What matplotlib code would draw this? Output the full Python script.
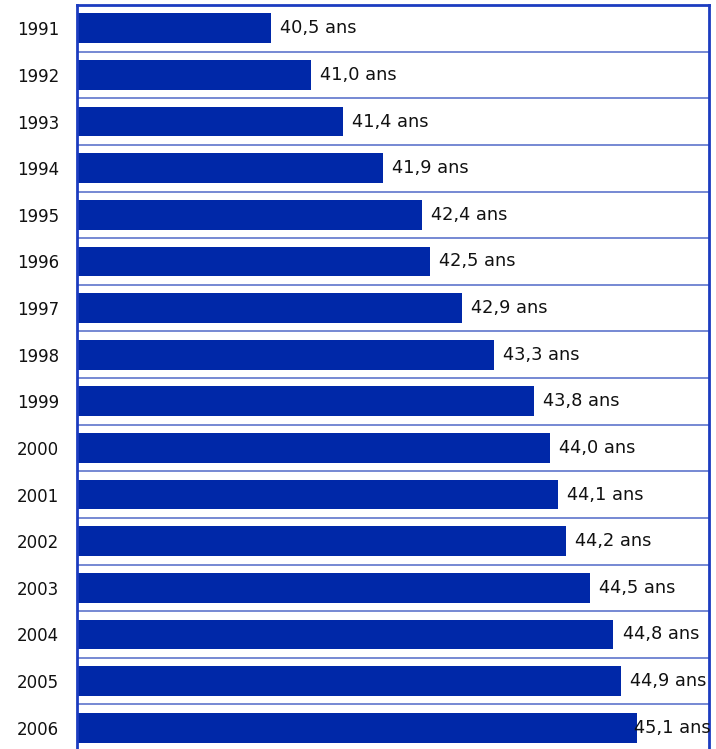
import matplotlib
matplotlib.use("Agg")
import matplotlib.pyplot as plt

years = ["1991", "1992", "1993", "1994", "1995", "1996", "1997", "1998",
         "1999", "2000", "2001", "2002", "2003", "2004", "2005", "2006"]
values = [40.5, 41.0, 41.4, 41.9, 42.4, 42.5, 42.9, 43.3,
          43.8, 44.0, 44.1, 44.2, 44.5, 44.8, 44.9, 45.1]
labels = ["40,5 ans", "41,0 ans", "41,4 ans", "41,9 ans", "42,4 ans", "42,5 ans",
          "42,9 ans", "43,3 ans", "43,8 ans", "44,0 ans", "44,1 ans", "44,2 ans",
          "44,5 ans", "44,8 ans", "44,9 ans", "45,1 ans"]

plt.rcParams['font.family'] = ['DejaVu Sans']

W, H = 716, 749
fig = plt.figure(figsize=(W / 100, H / 100), dpi=100)
ax = fig.add_axes([77 / W, -2 / H, (709 - 77) / W, (751 - 5) / H])

bar_color = '#0028a8'
frame_color = '#1c3cc0'
ypos = list(range(len(years)))
ax.barh(ypos, values, height=0.64, color=bar_color, left=0)
ax.set_xlim(38.06, 46.0)
ax.set_ylim(len(years) - 0.5, -0.5)

for i in range(len(years) - 1):
    ax.axhline(i + 0.5, color='#6a7fd0', lw=1.3, zorder=0.5)

ax.set_yticks(ypos)
ax.set_yticklabels(years, fontsize=12, color='#111111')
ax.tick_params(axis='y', length=0, pad=13)
ax.set_xticks([])
for s in ['left', 'top', 'right']:
    ax.spines[s].set_color(frame_color)
    ax.spines[s].set_linewidth(2)
ax.spines['bottom'].set_visible(False)

texts = []
for i, (v, lab) in enumerate(zip(values, labels)):
    t = ax.annotate(lab, xy=(v, i), xytext=(6.5, 0), textcoords='offset points',
                    va='center', ha='left', fontsize=12.8, color='#111111',
                    annotation_clip=False)
    texts.append(t)

fig.canvas.draw()
r = fig.canvas.get_renderer()
ax_right = ax.get_window_extent(r).x1 + 2
for t, v in zip(texts, values):
    bb = t.get_window_extent(r)
    if bb.x1 > ax_right:
        shift = bb.x1 - ax_right
        t.set_position((6.5 - shift * 72 / 100, 0))

fig.savefig("out.png", dpi=100)
